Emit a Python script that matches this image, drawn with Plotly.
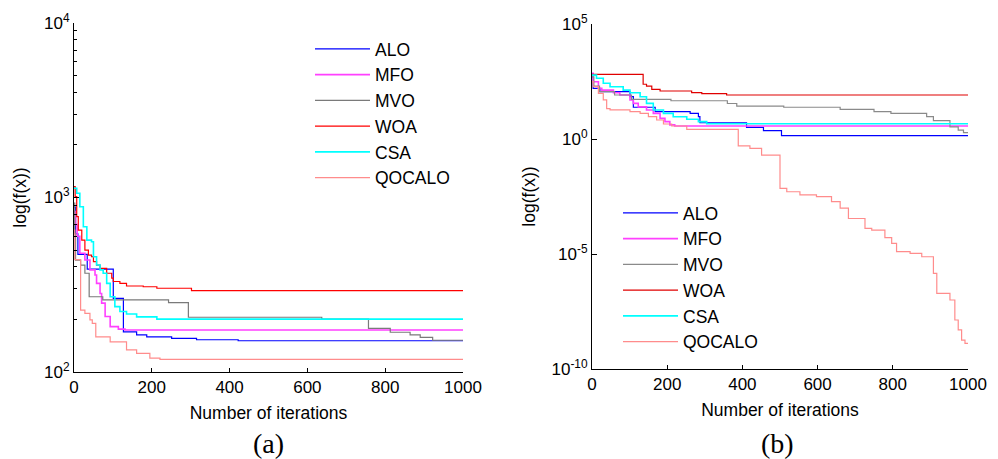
import plotly.graph_objects as go

# ---------------- Panel (a) data ----------------
a_alo_it = [0, 4, 10, 34, 101, 127, 161, 187, 251, 315, 422, 1000]
a_alo_v = [880, 620, 472, 389, 264, 170, 163, 159, 156, 153, 151, 151]

a_mfo_it = [0, 4, 8, 15, 28, 41, 54, 58, 67, 71, 80, 93, 114, 131, 1000]
a_mfo_v = [830, 700, 600, 479, 438, 385, 360, 322, 282, 248, 208, 182, 176, 174, 174]

a_mvo_it = [0, 2, 4, 17, 28, 39, 74, 243, 294, 637, 757, 813, 864, 890, 922, 1000]
a_mvo_v = [930, 620, 438, 410, 368, 270, 259, 250, 206, 201, 178, 169, 163, 158, 152, 152]

a_woa_it = [0, 3, 7, 11, 20, 28, 37, 45, 50, 58, 67, 84, 97, 101, 118, 135, 178, 213, 302, 1000]
a_woa_v = [1153, 1011, 777, 651, 570, 500, 468, 458, 429, 410, 393, 368, 345, 330, 322, 311, 308, 302, 293, 293]

a_csa_it = [0, 7, 15, 24, 33, 45, 50, 58, 67, 75, 84, 93, 105, 118, 135, 161, 213, 1000]
a_csa_v = [1130, 1057, 885, 680, 570, 558, 458, 410, 385, 368, 322, 270, 237, 222, 215, 207, 201, 201]

a_qoc_it = [0, 2, 17, 28, 41, 47, 56, 93, 135, 161, 195, 221, 1000]
a_qoc_v = [650, 440, 226, 217, 199, 190, 159, 149, 134, 128, 120, 118, 118]

# ---------------- Panel (b) data ----------------
b_alo_it = [0, 3, 21, 101, 110, 168, 261, 283, 287, 411, 456, 504, 1000]
b_alo_v = [500, 160, 114, 69, 24, 15.5, 13, 9.3, 5.1, 3.2, 2.3, 1.39, 1.39]

b_mfo_it = [0, 3, 17, 26, 57, 74, 101, 110, 123, 145, 163, 181, 194, 207, 220, 1000]
b_mfo_v = [720, 310, 160, 134, 103, 82, 50, 35.5, 25, 18.3, 13, 7.9, 5.7, 4.1, 3.67, 3.67]

b_mvo_it = [0, 5, 20, 60, 105, 210, 360, 385, 510, 660, 750, 795, 890, 908, 952, 974, 988, 1000]
b_mvo_v = [500, 200, 114, 82, 53, 46, 35, 27, 24, 19.5, 15.5, 13, 9.3, 6.3, 3.4, 2.45, 1.9, 1.9]

b_woa_it = [0, 136, 145, 159, 181, 265, 292, 358, 1000]
b_woa_v = [650, 240, 201, 145, 122, 103, 93, 82, 82]

b_csa_it = [0, 12, 30, 48, 83, 101, 128, 145, 163, 190, 216, 252, 283, 305, 1000]
b_csa_v = [600, 437, 265, 188, 134, 103, 69, 35.5, 18.3, 13, 9.3, 7.2, 5.7, 4.6, 4.6]

b_qoc_it = [0, 3, 17, 30, 39, 48, 101, 128, 150, 172, 190, 212, 252, 389, 420, 451, 500, 518,
            553, 597, 637, 660, 682, 726, 744, 779, 797, 810, 846, 877, 908, 917, 952, 965,
            974, 983, 992, 1000]
b_qoc_v = [310, 188, 97, 50, 21, 18.3, 15.5, 13, 9.3, 6.7, 4.5, 3.67, 2.6, 0.5, 0.39, 0.2,
           7.2e-3, 5.1e-3, 3.7e-3, 3.1e-3, 1.9e-3, 9.8e-4, 3.5e-4, 1.3e-4, 1.1e-4, 5.2e-5,
           2.9e-5, 1.26e-5, 1.07e-5, 7.6e-6, 1.45e-6, 1.95e-7, 1e-7, 1.35e-8, 5e-9, 1.8e-9,
           1.3e-9, 1.3e-9]

names = ["ALO", "MFO", "MVO", "WOA", "CSA", "QOCALO"]

x_ticks = [0, 200, 400, 600, 800, 1000]
a_yticks = [1e2, 1e3, 1e4]
a_yticktext = ["10<sup>2</sup>", "10<sup>3</sup>", "10<sup>4</sup>"]
b_yticks = [1e-10, 1e-5, 1e0, 1e5]
b_yticktext = ["10<sup>-10</sup>", "10<sup>-5</sup>", "10<sup>0</sup>", "10<sup>5</sup>"]

colors_a = ["#0000ff", "#ff40ff", "#7a7a7a", "#ff0000", "#00ffff", "#ff8c8c"]
colors_b = ["#0000ff", "#ff40ff", "#8a8a8a", "#e00000", "#00ffff", "#ff8c8c"]
widths = [1.2, 1.6, 1.2, 1.2, 1.6, 1.2]

FONT = "Liberation Sans, Arial, sans-serif"
SERIF = "Liberation Serif, Times New Roman, serif"

fig = go.Figure()

a_series = [(a_alo_it, a_alo_v), (a_mfo_it, a_mfo_v), (a_mvo_it, a_mvo_v),
            (a_woa_it, a_woa_v), (a_csa_it, a_csa_v), (a_qoc_it, a_qoc_v)]
b_series = [(b_alo_it, b_alo_v), (b_mfo_it, b_mfo_v), (b_mvo_it, b_mvo_v),
            (b_woa_it, b_woa_v), (b_csa_it, b_csa_v), (b_qoc_it, b_qoc_v)]

for i, (it, v) in enumerate(a_series):
    fig.add_trace(go.Scatter(x=it, y=v, mode="lines", name=names[i],
                             line=dict(color=colors_a[i], width=widths[i], shape="hv"),
                             xaxis="x", yaxis="y", legend="legend"))
for i, (it, v) in enumerate(b_series):
    fig.add_trace(go.Scatter(x=it, y=v, mode="lines", name=names[i],
                             line=dict(color=colors_b[i], width=widths[i], shape="hv"),
                             xaxis="x2", yaxis="y2", legend="legend2"))

W, H = 998, 459

def xd(a, b):
    return [a / W, b / W]

def yd(top, bottom):
    return [1 - bottom / H, 1 - top / H]

axis_common = dict(showline=True, linecolor="black", linewidth=1, showgrid=False,
                   zeroline=False, ticks="inside", tickcolor="black", automargin=False,
                   tickfont=dict(family=FONT, size=17, color="black"))

fig.update_layout(
    width=W, height=H,
    margin=dict(l=0, r=0, t=0, b=0, autoexpand=False),
    paper_bgcolor="white", plot_bgcolor="white",
    font=dict(family=FONT, size=17, color="black"),
    xaxis=dict(domain=xd(74, 463), range=[0, 1000], tickvals=x_ticks, ticklen=4,
               anchor="y",
               title=dict(text="Number of iterations", font=dict(size=17.5), standoff=10),
               **axis_common),
    yaxis=dict(domain=yd(23, 372), type="log", range=[2, 4], tickmode="array",
               tickvals=a_yticks, ticktext=a_yticktext, ticklen=5, anchor="x",
               minor=dict(ticks="inside", ticklen=3, tickcolor="black", dtick="D1"),
               title=dict(text="log(f(x))", font=dict(size=17.5), standoff=12),
               **axis_common),
    xaxis2=dict(domain=xd(592, 968), range=[0, 1000], tickvals=x_ticks, ticklen=4,
                anchor="y2",
                title=dict(text="Number of iterations", font=dict(size=17.5), standoff=10),
                **axis_common),
    yaxis2=dict(domain=yd(24, 369), type="log", range=[-10, 5], tickmode="array",
                tickvals=b_yticks, ticktext=b_yticktext, ticklen=5, anchor="x2",
                title=dict(text="log(f(x))", font=dict(size=17.5), standoff=11),
                **axis_common),
    legend=dict(x=310 / W, y=1 - 31 / H, xanchor="left", yanchor="top",
                bgcolor="rgba(0,0,0,0)", font=dict(family=FONT, size=17.5),
                itemwidth=55, tracegroupgap=0),
    legend2=dict(x=618 / W, y=1 - 195 / H, xanchor="left", yanchor="top",
                 bgcolor="rgba(0,0,0,0)", font=dict(family=FONT, size=17.5),
                 itemwidth=55, tracegroupgap=0),
    annotations=[
        dict(text="(a)", x=268 / W, y=1 - 443 / H, xref="paper", yref="paper",
             xanchor="center", yanchor="middle", showarrow=False,
             font=dict(family=SERIF, size=28, color="black")),
        dict(text="(b)", x=777 / W, y=1 - 443 / H, xref="paper", yref="paper",
             xanchor="center", yanchor="middle", showarrow=False,
             font=dict(family=SERIF, size=28, color="black")),
    ],
)

fig.write_html("out.html")
